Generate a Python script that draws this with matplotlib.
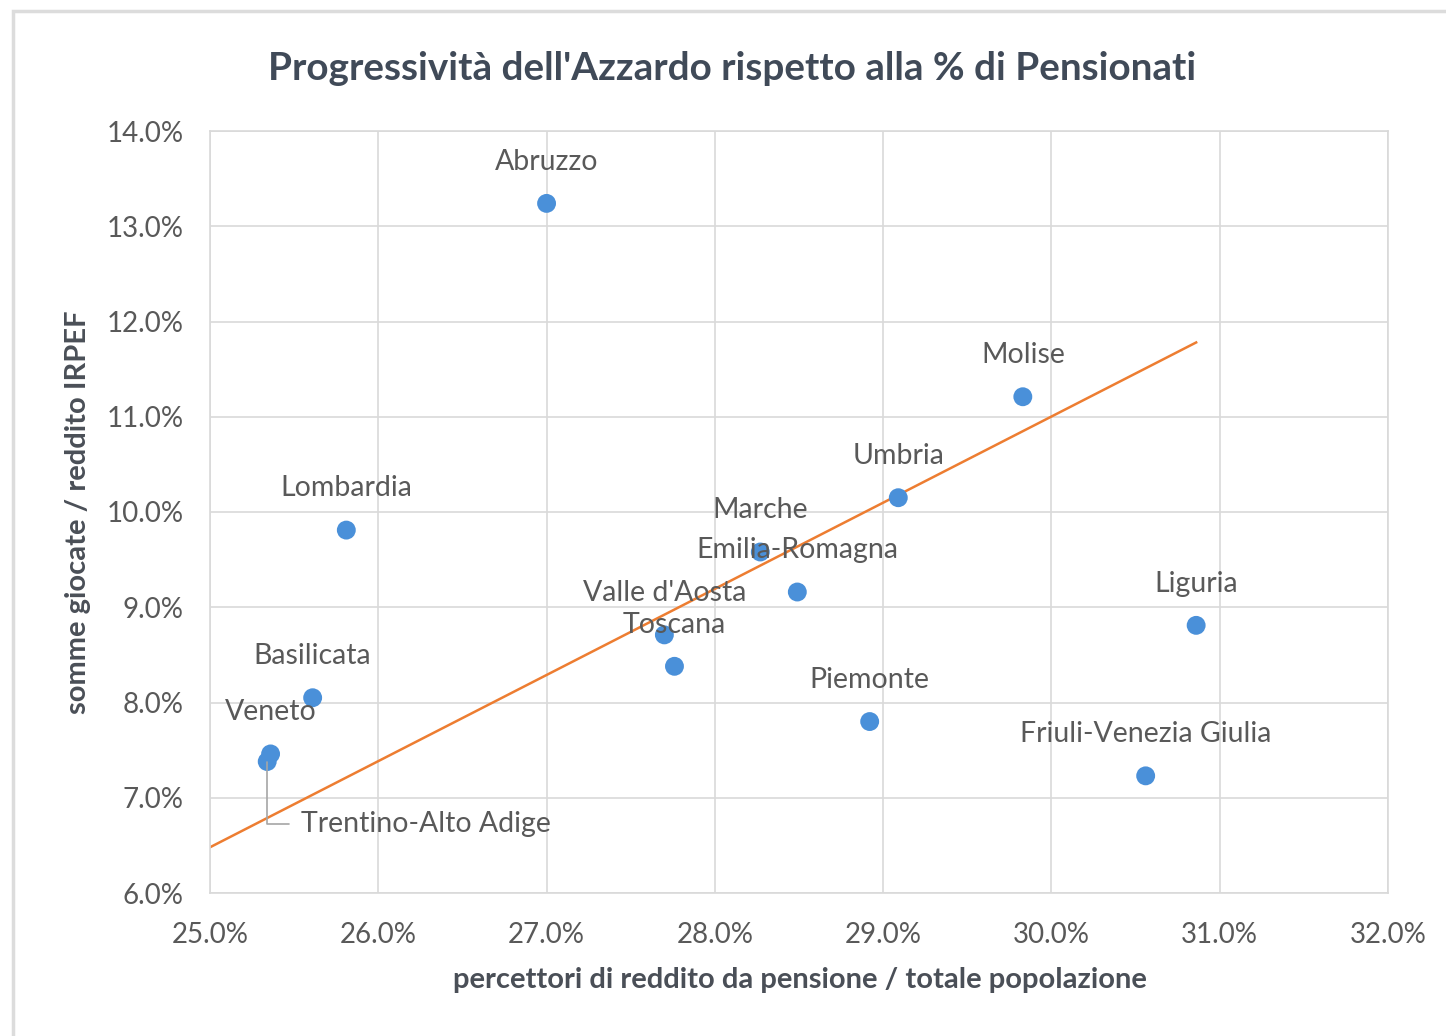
import matplotlib
matplotlib.use("Agg")
import matplotlib.pyplot as plt
from matplotlib.patches import Rectangle
from matplotlib.ticker import FuncFormatter, MultipleLocator

plt.rcParams['font.family'] = ['Lato', 'DejaVu Sans']

# ---- data (percent) ----
regions = ["Abruzzo", "Molise", "Umbria", "Lombardia", "Marche", "Emilia-Romagna",
           "Liguria", "Valle d'Aosta", "Toscana", "Basilicata", "Piemonte",
           "Veneto", "Trentino-Alto Adige", "Friuli-Venezia Giulia"]
pensionati = [27.00, 29.83, 29.09, 25.81, 28.27, 28.49,
              30.86, 27.70, 27.76, 25.61, 28.92,
              25.36, 25.34, 30.56]
azzardo = [13.24, 11.21, 10.15, 9.81, 9.58, 9.16,
           8.81, 8.71, 8.38, 8.05, 7.80,
           7.46, 7.38, 7.23]
trend_x = [25.0, 30.86]
trend_y = [6.48, 11.78]

title = "Progressività dell'Azzardo rispetto alla % di Pensionati"
xlabel = "percettori di reddito da pensione / totale popolazione"
ylabel = "somme giocate / reddito IRPEF"

TXT = "#595959"
GRID = "#d9d9d9"

fig = plt.figure(figsize=(14.46, 10.36), dpi=100)
fig.patch.set_facecolor("white")
fig.patches.append(Rectangle((13/1446, -0.1), 1.2, 1.1 - 11/1036, transform=fig.transFigure,
                             fill=False, edgecolor="#dcdcdc", linewidth=2.5))

ax = fig.add_axes([210/1446, 1 - 893/1036, (1388-210)/1446, (893-131)/1036])
ax.set_xlim(25, 32)
ax.set_ylim(6, 14)
ax.xaxis.set_major_locator(MultipleLocator(1))
ax.yaxis.set_major_locator(MultipleLocator(1))
fmt = FuncFormatter(lambda v, p: f"{v:.1f}%")
ax.xaxis.set_major_formatter(fmt)
ax.yaxis.set_major_formatter(fmt)
ax.grid(True, color=GRID, linewidth=1.2)
ax.set_axisbelow(True)
for s in ax.spines.values():
    s.set_color(GRID)
    s.set_linewidth(1.2)
ax.tick_params(length=0, labelsize=20, colors=TXT)
ax.tick_params(axis='x', pad=21)
ax.tick_params(axis='y', pad=19)

ax.plot(trend_x, trend_y, color="#ED7D31", linewidth=1.8, zorder=2)
ax.scatter(pensionati, azzardo, s=185, color="#4A90D9", edgecolors="none", zorder=3)

for name, x, y in zip(regions, pensionati, azzardo):
    if name == "Trentino-Alto Adige":
        ax.annotate(name, (x, y), xytext=(24, -45), textcoords="offset points",
                    ha="left", va="center", fontsize=20.5, color=TXT, zorder=4,
                    arrowprops=dict(arrowstyle="-", color="#a6a6a6", lw=1.2,
                                    connectionstyle="angle,angleA=0,angleB=90,rad=0",
                                    shrinkA=6, shrinkB=0))
    else:
        ax.annotate(name, (x, y), xytext=(0, 30), textcoords="offset points",
                    ha="center", va="center", fontsize=20.5, color=TXT, zorder=4)

fig.text(732/1446, 1 - 68/1036, title, ha="center", va="center",
         fontsize=27.8, fontweight="bold", color="#404a58")
fig.text(800/1446, 1 - 980/1036, xlabel, ha="center", va="center",
         fontsize=21, fontweight="bold", color="#4a4f57")
fig.text(78/1446, 1 - 512/1036, ylabel, ha="center", va="center", rotation=90,
         fontsize=21, fontweight="bold", color="#4a4f57")

fig.savefig("out.png", dpi=100)
